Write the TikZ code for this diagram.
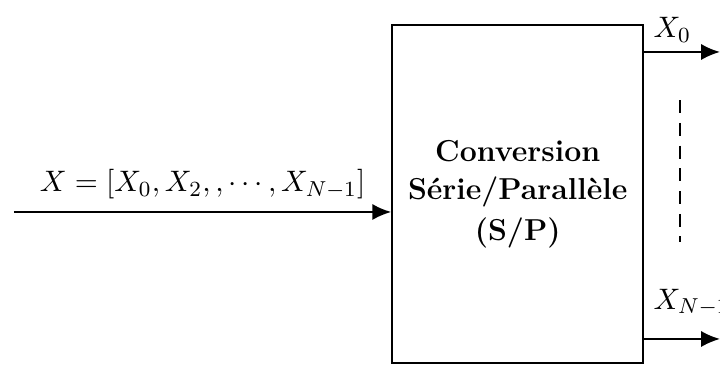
\documentclass[tikz,border=0pt]{standalone}
\usetikzlibrary{arrows.meta}

\begin{document}
\begin{tikzpicture}[
        font=\fontsize{11.2}{14}\selectfont,
        fleche/.style={thick, -{Latex[length=7pt,width=6pt]}},
        bloc/.style={
            draw=black,
            thick,
            minimum width=3.26cm,
            minimum height=4.40cm,
            align=center,
            font=\fontsize{11.2}{14}\selectfont\bfseries
        }
    ]
    \useasboundingbox (0,0) rectangle (9.36,4.823);

    % Bloc de conversion
    \node[bloc] (sp) at (6.73,2.30) {Conversion\\Série/Parallèle\\[1pt](S/P)};

    % Entrée
    \coordinate (in) at (0.18,2.067);
    \draw[fleche] (in) -- (in -| sp.west)
        node[midway, above=1pt] (lin) {$X=[X_0, X_2, , \cdots, X_{N-1}]$};

    % Sorties
    \coordinate (x0) at (9.36,4.147);
    \coordinate (xn) at (9.36,0.416);
    \draw[fleche] (sp.east |- x0) -- (x0);
    \draw[fleche] (sp.east |- xn) -- (xn);
    \node[above right] (lx0) at (sp.east |- x0) {$X_0$};
    \node[above right, yshift=5pt] (lxn) at (sp.east |- xn) {$X_{N-1}$};

    % Pointillés
    \coordinate (d1) at (8.84,3.52);
    \coordinate (d2) at (8.84,1.68);
    \draw[thick, dash pattern=on 4.8pt off 3.6pt] (d1) -- (d2);

\end{tikzpicture}
\end{document}
